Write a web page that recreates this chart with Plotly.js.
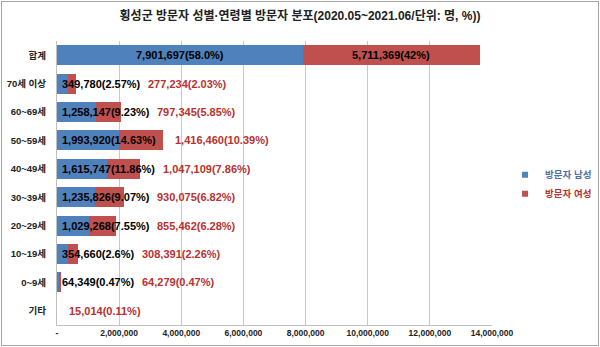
<!DOCTYPE html>
<html>
<head>
<meta charset="utf-8">
<script src="https://cdn.plot.ly/plotly-3.0.1.min.js"></script>
<style>
html,body{margin:0;padding:0;background:#fff;}
#wrap{position:relative;width:600px;height:347px;}
#chart{width:600px;height:347px;}
#frame{position:absolute;left:1px;top:1px;width:596px;height:343px;border:1px solid #a6a6a6;pointer-events:none;}
</style>
</head>
<body>
<div id="wrap"><div id="chart"></div><div id="frame"></div></div>
<script>
// ---- data ----
const categories = ["합계","70세 이상","60~69세","50~59세","40~49세","30~39세","20~29세","10~19세","0~9세","기타"];
const maleValues = [7901697,349780,1258147,1993920,1615747,1235826,1029268,354660,64349,null];
const femaleValues = [5711369,277234,797345,1416460,1047109,930075,855462,308391,64279,15014];
const malePct = ["58.0%","2.57%","9.23%","14.63%","11.86%","9.07%","7.55%","2.6%","0.47%",null];
const femalePct = ["42%","2.03%","5.85%","10.39%","7.86%","6.82%","6.28%","2.26%","0.47%","0.11%"];
const tickVals = [0,2000000,4000000,6000000,8000000,10000000,12000000,14000000];
const tickText = ["-","2,000,000","4,000,000","6,000,000","8,000,000","10,000,000","12,000,000","14,000,000"];
const seriesNames = ["방문자 남성","방문자 여성"];

// ---- style ----
const BLUE = "#4f81bd", RED = "#c0504d", RED_TXT = "#b8312f";
const FONT = "Liberation Sans, Noto Sans CJK KR, sans-serif";
const LFONT = "Liberation Sans Narrow, Liberation Sans, Noto Sans CJK KR, sans-serif";
const LBL_SIZE = 11;
const W = 600, H = 347, ML = 57, MR = 108, MT = 41, MB = 22;
const XMAX = 14000000;
const plotW = W - ML - MR;
const pxPerUnit = plotW / XMAX;

const fmt = v => v.toLocaleString("en-US");
const cv = document.createElement("canvas").getContext("2d");
cv.font = "bold " + LBL_SIZE + "px " + LFONT;
const textW = s => cv.measureText(s).width;

const traces = [
  {type:"bar", orientation:"h", name:seriesNames[0], y:categories, x:maleValues,
   marker:{color:BLUE}, width:0.7, hoverinfo:"none", showlegend:false},
  {type:"bar", orientation:"h", name:seriesNames[1], y:categories, x:femaleValues,
   marker:{color:RED}, width:0.7, hoverinfo:"none", showlegend:false},
  // legend entries with small square keys
  {type:"scatter", mode:"markers", name:'<span style="color:#4f6fa0">'+seriesNames[0]+'</span>', x:[null], y:[null],
   marker:{symbol:"square", size:6, color:BLUE}, hoverinfo:"none"},
  {type:"scatter", mode:"markers", name:'<span style="color:#b8312f">'+seriesNames[1]+'</span>', x:[null], y:[null],
   marker:{symbol:"square", size:6, color:RED}, hoverinfo:"none"}
];

const annotations = [];
categories.forEach((c,i) => {
  const m = maleValues[i], f = femaleValues[i];
  const mt = m != null ? fmt(m) + "(" + malePct[i] + ")" : null;
  const ft = fmt(f) + "(" + femalePct[i] + ")";
  if (i === 0) {
    annotations.push({x:m/2, y:c, text:mt, showarrow:false, xanchor:"center",
      font:{family:LFONT,size:LBL_SIZE,color:"#000",weight:"bold"}});
    annotations.push({x:m + f/2, y:c, text:ft, showarrow:false, xanchor:"center",
      font:{family:LFONT,size:LBL_SIZE,color:"#000",weight:"bold"}});
    return;
  }
  let endPx = 5;
  if (mt) {
    annotations.push({x:0, y:c, text:mt, showarrow:false, xanchor:"left", xshift:3,
      font:{family:LFONT,size:LBL_SIZE,color:"#000",weight:"bold"}});
    endPx = 5 + textW(mt) + 8;
  }
  const totalPx = ((m||0) + f) * pxPerUnit + 12;
  const startPx = Math.max(endPx, totalPx);
  annotations.push({x:startPx / pxPerUnit, y:c, text:ft, showarrow:false, xanchor:"left", xshift:-2,
    font:{family:LFONT,size:LBL_SIZE,color:RED_TXT,weight:"bold"}});
});

const layout = {
  width:W, height:H,
  margin:{l:ML, r:MR, t:MT, b:MB, pad:0, autoexpand:false},
  paper_bgcolor:"#fff", plot_bgcolor:"#fff",
  barmode:"stack",
  title:{text:"횡성군 방문자 성별·연령별 방문자 분포(2020.05~2021.06/단위: 명, %))",
    x:0.5, xanchor:"center", y:0.955, yanchor:"middle",
    font:{family:FONT, size:12, color:"#222", weight:"bold"}},
  xaxis:{range:[0,XMAX], tickvals:tickVals, ticktext:tickText, showgrid:true, gridcolor:"#c8c8c8",
    zeroline:false, showline:true, linecolor:"#c0c0c0", ticks:"", fixedrange:true,
    tickfont:{family:FONT, size:8.5, color:"#222", weight:"bold"}},
  yaxis:{type:"category", autorange:"reversed", showgrid:false, zeroline:false, showline:true, linecolor:"#c0c0c0",
    ticks:"", ticklen:0, tickfont:{family:FONT, size:9.5, color:"#222", weight:"bold"}, ticklabelstandoff:8},
  legend:{x:1.03, xanchor:"left", y:0.58, yanchor:"top", traceorder:"normal",
    font:{family:FONT, size:9.5, weight:"bold"}, itemwidth:30, bgcolor:"rgba(0,0,0,0)"},
  annotations:annotations,
  showlegend:true
};

Plotly.newPlot("chart", traces, layout, {displayModeBar:false, staticPlot:true});
</script>
</body>
</html>
